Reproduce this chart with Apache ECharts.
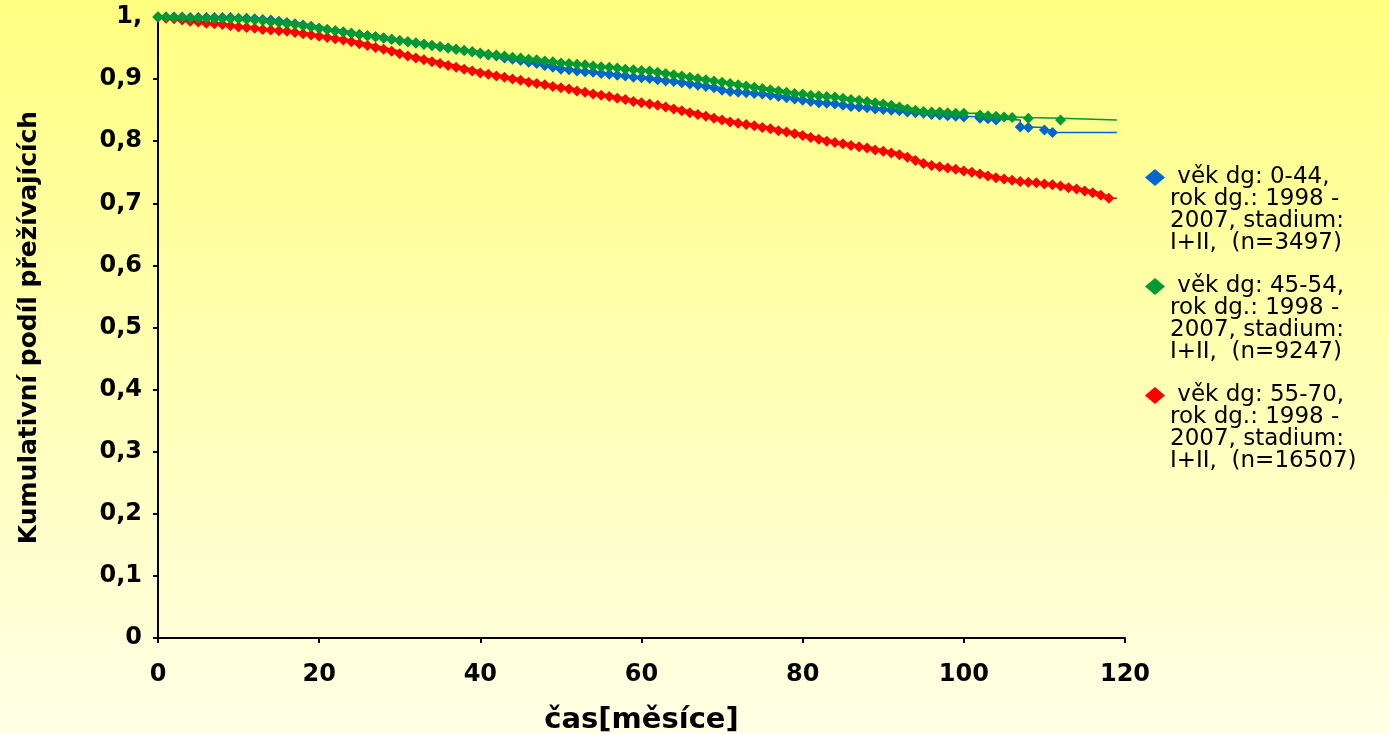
<!DOCTYPE html>
<html>
<head>
<meta charset="utf-8">
<script src="https://cdn.jsdelivr.net/npm/echarts@6/dist/echarts.min.js"></script>
<style>
html,body{margin:0;padding:0;}
#chart{width:1389px;height:734px;}
</style>
</head>
<body>
<div id="chart"></div>
<script>
// ---- data ----
const seriesNames = [
  ' věk dg: 0-44,\nrok dg.: 1998 -\n2007, stadium:\nI+II,  (n=3497)',
  ' věk dg: 45-54,\nrok dg.: 1998 -\n2007, stadium:\nI+II,  (n=9247)',
  ' věk dg: 55-70,\nrok dg.: 1998 -\n2007, stadium:\nI+II,  (n=16507)'
];
const seriesColors = ['#0066CC', '#009933', '#FF0000'];

const blueMonths = [0,1,2,3,4,5,6,7,8,9,10,11,12,13,14,15,16,17,18,19,20,21,22,23,24,25,26,27,28,29,30,31,32,33,34,35,36,37,38,39,40,41,42,43,44,45,46,47,48,49,50,51,52,53,54,55,56,57,58,59,60,61,62,63,64,65,66,67,68,69,70,71,72,73,74,75,76,77,78,79,80,81,82,83,84,85,86,87,88,89,90,91,92,93,94,95,96,97,98,99,100,102,103,104,107,108,110,111];
const blueValues = [
  1.000,1.000,1.000,1.000,0.999,0.999,0.999,0.999,0.999,0.999,
  0.998,0.998,0.997,0.996,0.995,0.993,0.991,0.989,0.987,0.985,
  0.982,0.980,0.978,0.976,0.974,0.972,0.970,0.968,0.966,0.964,
  0.962,0.960,0.958,0.956,0.954,0.952,0.950,0.948,0.946,0.944,
  0.941,0.939,0.937,0.934,0.932,0.930,0.927,0.925,0.922,0.919,
  0.916,0.915,0.913,0.912,0.911,0.909,0.908,0.906,0.905,0.903,
  0.902,0.901,0.899,0.897,0.896,0.894,0.892,0.890,0.888,0.886,
  0.882,0.880,0.879,0.878,0.877,0.876,0.874,0.872,0.870,0.868,
  0.866,0.864,0.862,0.861,0.860,0.858,0.856,0.855,0.854,0.852,
  0.851,0.850,0.849,0.847,0.846,0.845,0.843,0.842,0.841,0.840,
  0.839,0.837,0.836,0.834,0.823,0.822,0.818,0.814
];

const greenMonths = [0,1,2,3,4,5,6,7,8,9,10,11,12,13,14,15,16,17,18,19,20,21,22,23,24,25,26,27,28,29,30,31,32,33,34,35,36,37,38,39,40,41,42,43,44,45,46,47,48,49,50,51,52,53,54,55,56,57,58,59,60,61,62,63,64,65,66,67,68,69,70,71,72,73,74,75,76,77,78,79,80,81,82,83,84,85,86,87,88,89,90,91,92,93,94,95,96,97,98,99,100,102,103,104,105,106,108,112];
const greenValues = [
  1.000,1.000,0.999,0.999,0.998,0.998,0.998,0.997,0.997,0.997,
  0.997,0.996,0.995,0.994,0.992,0.991,0.989,0.988,0.986,0.984,
  0.982,0.980,0.978,0.976,0.974,0.972,0.970,0.968,0.966,0.964,
  0.962,0.960,0.958,0.956,0.954,0.952,0.950,0.948,0.946,0.944,
  0.942,0.940,0.939,0.937,0.935,0.934,0.932,0.931,0.929,0.928,
  0.926,0.925,0.924,0.923,0.921,0.920,0.919,0.918,0.916,0.915,
  0.914,0.913,0.911,0.909,0.907,0.905,0.903,0.901,0.899,0.897,
  0.895,0.893,0.891,0.889,0.887,0.885,0.883,0.881,0.879,0.877,
  0.876,0.874,0.873,0.872,0.871,0.869,0.867,0.866,0.864,0.862,
  0.860,0.858,0.855,0.852,0.850,0.848,0.847,0.847,0.846,0.845,
  0.845,0.842,0.841,0.840,0.839,0.838,0.837,0.834
];

const redMonths = [0,1,2,3,4,5,6,7,8,9,10,11,12,13,14,15,16,17,18,19,20,21,22,23,24,25,26,27,28,29,30,31,32,33,34,35,36,37,38,39,40,41,42,43,44,45,46,47,48,49,50,51,52,53,54,55,56,57,58,59,60,61,62,63,64,65,66,67,68,69,70,71,72,73,74,75,76,77,78,79,80,81,82,83,84,85,86,87,88,89,90,91,92,93,94,95,96,97,98,99,100,101,102,103,104,105,106,107,108,109,110,111,112,113,114,115,116,117,118];
const redValues = [
  1.000,0.998,0.997,0.995,0.993,0.992,0.990,0.989,0.988,0.986,
  0.984,0.983,0.982,0.980,0.979,0.978,0.977,0.975,0.973,0.971,
  0.969,0.967,0.965,0.963,0.960,0.957,0.954,0.951,0.948,0.945,
  0.941,0.937,0.934,0.931,0.928,0.925,0.922,0.919,0.916,0.913,
  0.910,0.908,0.905,0.903,0.900,0.898,0.895,0.893,0.891,0.888,
  0.886,0.884,0.881,0.879,0.876,0.874,0.872,0.869,0.867,0.864,
  0.862,0.860,0.858,0.855,0.852,0.849,0.846,0.843,0.840,0.837,
  0.834,0.831,0.829,0.827,0.825,0.822,0.820,0.817,0.815,0.812,
  0.809,0.806,0.803,0.800,0.798,0.796,0.793,0.791,0.789,0.786,
  0.784,0.781,0.778,0.774,0.769,0.764,0.761,0.759,0.757,0.755,
  0.752,0.750,0.747,0.744,0.741,0.739,0.737,0.735,0.734,0.733,
  0.731,0.730,0.728,0.725,0.723,0.720,0.717,0.713,0.708
];

// end of follow-up (horizontal tail without marker)
const followUpEnd = [119, 119, 119];

const xTicks = [0, 20, 40, 60, 80, 100, 120];
const yTickLabels = ['0','0,1','0,2','0,3','0,4','0,5','0,6','0,7','0,8','0,9','1,'];
const xTitle = 'čas[měsíce]';
const yTitle = 'Kumulativní podíl přežívajících';

// ---- build ----
function buildData(months, values, end) {
  const d = months.map((m, i) => [m, values[i]]);
  d.push({ value: [end, values[values.length - 1]], symbol: 'none' });
  return d;
}
const allMonths = [blueMonths, greenMonths, redMonths];
const allValues = [blueValues, greenValues, redValues];

const chart = echarts.init(document.getElementById('chart'), null, { renderer: 'canvas' });
const font = '"DejaVu Sans", Verdana, sans-serif';

const option = {
  animation: false,
  backgroundColor: {
    type: 'linear', x: 0, y: 0, x2: 0, y2: 1,
    colorStops: [
      { offset: 0, color: '#FFFF80' },
      { offset: 1, color: '#FFFFE6' }
    ]
  },
  grid: { left: 158, right: 264, top: 17, bottom: 96, containLabel: false, outerBoundsMode: 'none' },
  legend: {
    orient: 'vertical',
    left: 1145,
    top: 166,
    padding: 0,
    itemGap: 20,
    itemWidth: 20,
    itemHeight: 88,
    icon: 'path://M10,2.5 L20,11 L10,19.5 L0,11 Z M10,0 L10,0 M10,88 L10,88',
    itemStyle: { borderWidth: 0 },
    textStyle: { fontFamily: font, fontSize: 23, lineHeight: 22, color: '#000' },
    data: seriesNames
  },
  xAxis: {
    type: 'value',
    min: 0, max: 120, interval: 20,
    name: xTitle,
    nameLocation: 'middle',
    nameGap: 68,
    nameTextStyle: { fontFamily: font, fontSize: 29, fontWeight: 'bold', color: '#000' },
    axisLine: { lineStyle: { color: '#000', width: 2 } },
    axisTick: { show: true, length: 5, lineStyle: { color: '#000', width: 2 } },
    axisLabel: { margin: 25, fontFamily: font, fontSize: 24, fontWeight: 'bold', color: '#000',
      customValues: xTicks },
    splitLine: { show: false }
  },
  yAxis: {
    type: 'value',
    min: 0, max: 1, interval: 0.1,
    name: yTitle,
    nameLocation: 'middle',
    nameRotate: 90,
    nameGap: 116,
    nameTextStyle: { fontFamily: font, fontSize: 25, fontWeight: 'bold', color: '#000' },
    axisLine: { show: true, lineStyle: { color: '#000', width: 2 } },
    axisTick: { show: true, length: 5, lineStyle: { color: '#000', width: 2 } },
    axisLabel: {
      margin: 16, fontFamily: font, fontSize: 24, fontWeight: 'bold', color: '#000',
      formatter: v => yTickLabels[Math.round(v * 10)]
    },
    splitLine: { show: false }
  },
  series: seriesNames.map((name, i) => ({
    name: name,
    type: 'line',
    step: 'end',
    symbol: 'diamond',
    symbolSize: [11, 11],
    showAllSymbol: true,
    color: seriesColors[i],
    itemStyle: { color: seriesColors[i], borderWidth: 0 },
    lineStyle: { color: seriesColors[i], width: 1.5 },
    z: i === 1 ? 4 : 3,
    data: buildData(allMonths[i], allValues[i], followUpEnd[i])
  }))
};
chart.setOption(option);
</script>
</body>
</html>
